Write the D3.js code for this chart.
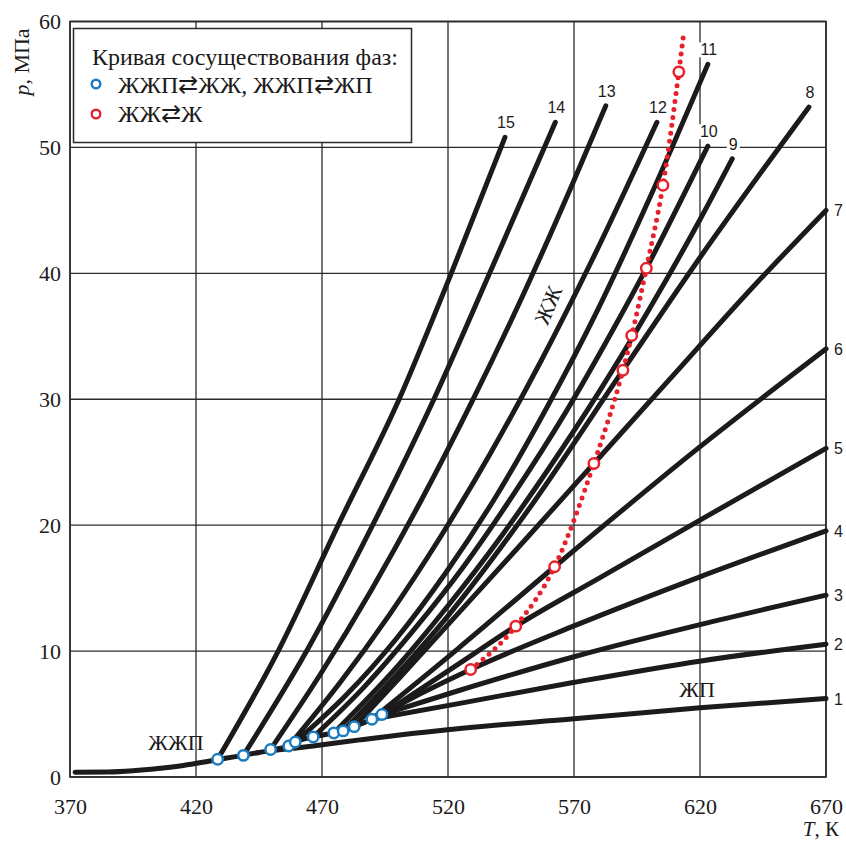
<!DOCTYPE html>
<html><head><meta charset="utf-8">
<script src="https://cdn.jsdelivr.net/npm/d3@7"></script>
<style>body{margin:0;background:#fff}</style>
</head><body>
<svg id="chart" width="846" height="843"></svg>
<script>
// axis ticks
const xTicks = [370, 420, 470, 520, 570, 620, 670];
const yTicks = [0, 10, 20, 30, 40, 50, 60];

// lower branch of the ЖЖП line, continuing as isopleth 1 (T, K ; p, MPa)
const curve1 = [[372,0.38],[385,0.4],[395,0.5],[405,0.68],[415,0.92],[425,1.25],[435,1.6],[445,1.95],[455,2.2],[466.5,2.47],[485,2.95],[500,3.32],[524.7,3.85],[570,4.62],[620,5.5],[670,6.23]];
// upper branch of the three-phase line through the blue points
const threePhase = [[449.6,2.18],[456.8,2.46],[459.4,2.78],[466.5,3.18],[474.7,3.5],[478.4,3.66],[482.8,4.0],[489.8,4.59],[493.8,4.96]];
// isopleths 2…15
const curve2 = [[489.8,4.59],[524.7,5.85],[569.6,7.5],[619.8,9.2],[670,10.55]];
const curve3 = [[493.8,4.96],[524.7,6.89],[570,9.55],[620,12.1],[670,14.44]];
const curve4 = [[493.8,4.96],[510,6.7],[529,8.54],[570,12.0],[620,15.9],[670,19.55]];
const curve5 = [[493.8,4.96],[524.7,9.04],[546.9,11.98],[580,15.8],[620,20.4],[670,26.1]];
const curve6 = [[489.8,4.59],[524,10.2],[562.3,16.7],[619.8,26.2],[670,34]];
const curve7 = [[482.8,4.0],[500,7.7],[520,12.1],[550,18.7],[577.9,24.9],[608,31.6],[640,38.7],[670,45]];
const curve8 = [[478.4,3.66],[500,8.2],[520,12.8],[550,20.7],[589.4,32.3],[619.8,41.2],[663.2,53.2]];
const curve9 = [[474.7,3.5],[500,8.8],[520,13.6],[540,18.8],[560,24.5],[580,30.6],[600,37.2],[619.8,44.2],[632.8,49.1]];
const curve10 = [[466.5,3.18],[486.5,7.1],[506.5,11.7],[526.5,16.8],[546.5,22.6],[566.5,28.9],[586.5,35.9],[598.7,40.4],[623.1,50.1]];
const curve11 = [[459.4,2.78],[479.4,6.47],[499.4,10.96],[519.4,16.3],[539.4,22.4],[559.4,29.4],[579.4,37.1],[599.4,45.7],[623.1,56.6]];
const curve12 = [[456.8,2.46],[476.8,7.4],[496.8,12.9],[516.8,19.0],[536.8,25.7],[556.8,33.0],[576.8,40.9],[602.9,52]];
const curve13 = [[449.6,2.2],[469.6,8.24],[489.6,14.86],[509.6,22.06],[529.6,29.85],[549.6,38.2],[569.6,47.2],[582.6,53.3]];
const curve14 = [[438.8,1.72],[463.9,10],[490.1,20],[514.4,30],[536.5,40],[562.6,52]];
const curve15 = [[428.6,1.41],[452.6,10],[476.4,20],[500.6,30],[520.5,39.6],[542.6,50.8]];
const curveNames = ["1","2","3","4","5","6","7","8","9","10","11","12","13","14","15"];

// coexistence points
const bluePoints = [[428.6,1.41],[438.8,1.72],[449.6,2.18],[456.8,2.46],[459.4,2.78],[466.5,3.18],[474.7,3.5],[478.4,3.66],[482.8,4.0],[489.8,4.59],[493.8,4.96]];
const redPoints = [[529,8.54],[546.9,11.98],[562.3,16.7],[577.9,24.9],[589.4,32.3],[592.9,35.06],[598.7,40.4],[605.3,47.0],[611.6,56.0]];
const redLine = [[529,8.54],[546.9,11.98],[562.3,16.7],[577.9,24.9],[589.4,32.3],[592.9,35.06],[598.7,40.4],[605.3,47.0],[611.6,56.0],[613.5,59]];

const legendTitle = "Кривая сосуществования фаз:";
const legendItems = ["ЖЖП⇄ЖЖ, ЖЖП⇄ЖП", "ЖЖ⇄Ж"];

const curves = [curve1,curve2,curve3,curve4,curve5,curve6,curve7,curve8,curve9,curve10,curve11,curve12,curve13,curve14,curve15];

const svg = d3.select("#chart");
const m = {left: 70, right: 826, top: 21.5, bottom: 777};
const x = d3.scaleLinear().domain([370, 670]).range([m.left, m.right]);
const y = d3.scaleLinear().domain([0, 60]).range([m.bottom, m.top]);
const serif = "'Liberation Serif','Times New Roman',serif";
const sans = "'Liberation Sans',Arial,sans-serif";
const ink = "#1c1a1a";

// grid
const grid = svg.append("g").attr("stroke", "#2b2b2b").attr("stroke-width", 1.3);
grid.selectAll(".gx").data(xTicks).join("line")
  .attr("x1", d => x(d)).attr("x2", d => x(d)).attr("y1", m.top).attr("y2", m.bottom);
grid.selectAll(".gy").data(yTicks).join("line")
  .attr("x1", m.left).attr("x2", m.right).attr("y1", d => y(d)).attr("y2", d => y(d));
svg.append("rect").attr("x", m.left).attr("y", m.top).attr("width", m.right - m.left)
  .attr("height", m.bottom - m.top).attr("fill", "none").attr("stroke", "#2b2b2b").attr("stroke-width", 1.6);

// axes labels
const xAxis = d3.axisBottom(x).tickValues(xTicks).tickSize(0).tickPadding(21);
svg.append("g").attr("transform", `translate(0,${m.bottom})`).call(xAxis)
  .call(g => g.select(".domain").remove())
  .selectAll("text").attr("font-family", serif).attr("font-size", 22).attr("fill", ink);
const yAxis = d3.axisLeft(y).tickValues(yTicks).tickSize(0).tickPadding(9);
svg.append("g").attr("transform", `translate(${m.left},0)`).call(yAxis)
  .call(g => g.select(".domain").remove())
  .selectAll("text").attr("font-family", serif).attr("font-size", 22).attr("fill", ink);

svg.append("text").attr("transform", "translate(29,62) rotate(-90)").attr("text-anchor", "middle")
  .attr("font-family", serif).attr("font-size", 22).attr("fill", ink)
  .html('<tspan font-style="italic">p</tspan>, МПа');
svg.append("text").attr("x", 839).attr("y", 836).attr("text-anchor", "end")
  .attr("font-family", serif).attr("font-size", 21).attr("fill", ink)
  .html('<tspan font-style="italic">T</tspan>, К');

// curves
const line = d3.line().x(d => x(d[0])).y(d => y(d[1])).curve(d3.curveMonotoneX);
const plot = svg.append("g");
plot.append("path").datum(threePhase).attr("d", line).attr("fill", "none")
  .attr("stroke", ink).attr("stroke-width", 5);
plot.selectAll(".iso").data(curves).join("path").attr("d", line).attr("fill", "none")
  .attr("stroke", ink).attr("stroke-width", 5).attr("stroke-linecap", "round");

// curve numbers
curves.forEach((c, i) => {
  const last = c[c.length - 1];
  if (last[0] >= 670) {
    svg.append("text").attr("x", x(last[0]) + 8).attr("y", y(last[1]) + 6)
      .attr("font-family", sans).attr("font-size", 16).attr("fill", ink).text(curveNames[i]);
  } else {
    const t = svg.append("text").attr("x", x(last[0]) + 1).attr("y", y(last[1]) - 9)
      .attr("text-anchor", "middle").attr("font-family", sans).attr("font-size", 16)
      .attr("fill", ink).text(curveNames[i]);
    const bb = t.node().getBBox();
    svg.insert("rect", () => t.node()).attr("x", bb.x - 2).attr("y", bb.y + 1)
      .attr("width", bb.width + 4).attr("height", bb.height - 2).attr("fill", "#fff");
  }
});

// ЖЖ ⇄ Ж boundary
plot.append("path").datum(redLine).attr("d", line).attr("fill", "none")
  .attr("stroke", "#e8202a").attr("stroke-width", 5).attr("stroke-linecap", "round")
  .attr("stroke-dasharray", "0 8");
plot.selectAll(".red").data(redPoints).join("circle")
  .attr("cx", d => x(d[0])).attr("cy", d => y(d[1])).attr("r", 5.2)
  .attr("fill", "#fff").attr("stroke", "#e8202a").attr("stroke-width", 2.5);
plot.selectAll(".blue").data(bluePoints).join("circle")
  .attr("cx", d => x(d[0])).attr("cy", d => y(d[1])).attr("r", 5.2)
  .attr("fill", "#fff").attr("stroke", "#1a7cc1").attr("stroke-width", 2.5);

// region labels
svg.append("text").attr("x", 176).attr("y", 750).attr("text-anchor", "middle")
  .attr("font-family", serif).attr("font-size", 22).attr("fill", ink).text("ЖЖП");
svg.append("text").attr("x", 697).attr("y", 697).attr("text-anchor", "middle")
  .attr("font-family", serif).attr("font-size", 22).attr("fill", ink).text("ЖП");
svg.append("text").attr("transform", "translate(548,305) rotate(-67)").attr("text-anchor", "middle")
  .attr("dy", "0.35em").attr("font-family", serif).attr("font-size", 22).attr("fill", ink).text("ЖЖ");

// legend
const lg = svg.append("g");
lg.append("rect").attr("x", 73.5).attr("y", 28.5).attr("width", 338).attr("height", 114)
  .attr("fill", "#fff").attr("stroke", "#2b2b2b").attr("stroke-width", 1.5);
lg.append("text").attr("x", 92).attr("y", 65).attr("font-family", serif).attr("font-size", 24)
  .attr("fill", ink).text(legendTitle);
const legendColors = ["#1a7cc1", "#e8202a"];
legendItems.forEach((t, i) => {
  lg.append("circle").attr("cx", 96).attr("cy", 84 + i * 30).attr("r", 4.3)
    .attr("fill", "#fff").attr("stroke", legendColors[i]).attr("stroke-width", 2.4);
  lg.append("text").attr("x", 118).attr("y", 93 + i * 29).attr("font-family", serif)
    .attr("font-size", 24).attr("fill", ink).text(t);
});
</script>
</body></html>
